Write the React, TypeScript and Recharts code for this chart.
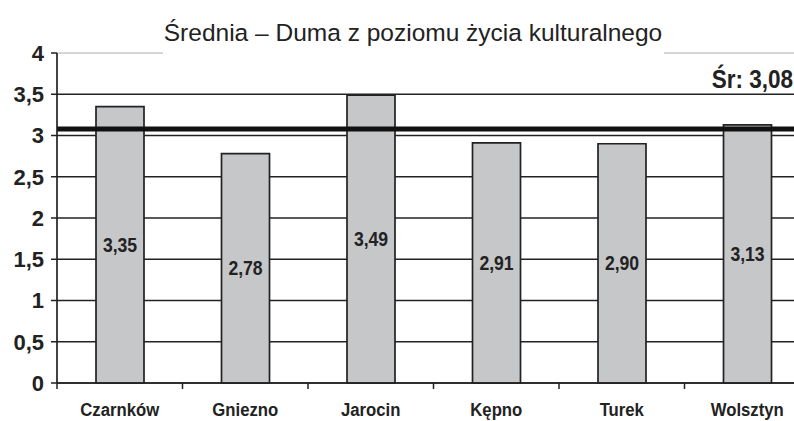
import React from "react";
import {
  BarChart,
  Bar,
  XAxis,
  YAxis,
  CartesianGrid,
  ReferenceLine,
  LabelList,
} from "recharts";

const towns = ["Czarnków", "Gniezno", "Jarocin", "Kępno", "Turek", "Wolsztyn"];
const scores = [3.35, 2.78, 3.49, 2.91, 2.9, 3.13];
const yTicks = [0, 0.5, 1, 1.5, 2, 2.5, 3, 3.5, 4];
const meanScore = 3.08;

const data = towns.map((town, i) => ({ town, score: scores[i] }));

const W = 810;
const H = 421;
const LEFT = 57;
const TOP = 53;
const BOTTOM_AXIS = 38;
const plotW = W - LEFT;
const band = plotW / towns.length;

const comma = (v: number, digits: number) =>
  v.toFixed(digits).replace(".", ",");

// the original uses a condensed bold face; squeeze Arial horizontally instead
const Narrow = ({ x, y, size, squeeze = 0.84, anchor = "middle", children }: any) => (
  <text
    x={0}
    y={0}
    transform={`translate(${x},${y}) scale(${squeeze},1)`}
    textAnchor={anchor}
    fontFamily="Arial, 'Liberation Sans', sans-serif"
    fontWeight="bold"
    fontSize={size}
    fill="#222"
  >
    {children}
  </text>
);

// category label plus a tick mark at the left boundary of the band
const TownTick = (props: any) => {
  const { x, y, payload } = props;
  return (
    <g>
      <line x1={x - band / 2} y1={y - 8} x2={x - band / 2} y2={y - 2} stroke="#222" strokeWidth={1.5} />
      <Narrow x={x} y={y + 25} size={19} squeeze={0.88}>
        {payload.value}
      </Narrow>
    </g>
  );
};

const gridLine = (props: any) => {
  const { x1, x2, y1, index } = props;
  if (Math.abs(y1 - TOP) < 1) {
    // top line is only a faint grey trace in the original
    return (
      <g key={`g-${index}`}>
        <line x1={x1} x2={x1 + 106} y1={y1} y2={y1} stroke="#c8c8c8" strokeWidth={1.5} />
        <line x1={x1 + 607} x2={x2} y1={y1} y2={y1} stroke="#c8c8c8" strokeWidth={1.5} />
      </g>
    );
  }
  return <line key={`g-${index}`} x1={x1} x2={x2} y1={y1} y2={y1} stroke="#222" strokeWidth={1.7} />;
};

const ValueLabel = (props: any) => {
  const { x, y, width, height, value } = props;
  return (
    <Narrow x={x + width / 2} y={y + height / 2 + 7} size={20} squeeze={0.88}>
      {comma(Number(value), 2)}
    </Narrow>
  );
};

const MeanLabel = (props: any) => {
  const { viewBox } = props;
  return (
    <Narrow x={793} y={viewBox.y - 41} size={25} squeeze={0.9} anchor="end">
      {`Śr: ${comma(meanScore, 2)}`}
    </Narrow>
  );
};

export default function App() {
  return (
    <div style={{ position: "absolute", left: 0, top: 0, width: 794, height: H, overflow: "hidden", background: "#fff" }}>
      <div
        style={{
          position: "absolute",
          top: 19,
          left: 140,
          width: 546,
          textAlign: "center",
          fontFamily: "Arial, 'Liberation Sans', sans-serif",
          fontSize: 24.5,
          lineHeight: "28px",
          color: "#222",
        }}
      >
        Średnia – Duma z poziomu życia kulturalnego
      </div>
      <BarChart
        width={W}
        height={H}
        data={data}
        margin={{ top: TOP, right: 0, left: 0, bottom: 0 }}
        barSize={48}
      >
        <CartesianGrid vertical={false} horizontal={gridLine} />
        <XAxis
          dataKey="town"
          height={BOTTOM_AXIS}
          tickLine={false}
          axisLine={{ stroke: "#222", strokeWidth: 1.7 }}
          tick={<TownTick />}
          interval={0}
        />
        <YAxis
          width={LEFT}
          domain={[0, 4]}
          ticks={yTicks}
          interval={0}
          tickSize={6}
          tickMargin={7}
          tickLine={{ stroke: "#222", strokeWidth: 1.5 }}
          axisLine={{ stroke: "#222", strokeWidth: 1.7 }}
          tickFormatter={(v: number) => (Number.isInteger(v) ? String(v) : comma(v, 1))}
          tick={{ fill: "#222", fontSize: 22, fontWeight: "bold", fontFamily: "Arial, sans-serif" }}
        />
        <Bar
          dataKey="score"
          fill="#c6c7c9"
          stroke="#222"
          strokeWidth={1.7}
          isAnimationActive={false}
        >
          <LabelList dataKey="score" content={<ValueLabel />} />
        </Bar>
        <ReferenceLine
          y={meanScore}
          stroke="#111"
          strokeWidth={5}
          ifOverflow="visible"
          label={<MeanLabel />}
        />
      </BarChart>
    </div>
  );
}
